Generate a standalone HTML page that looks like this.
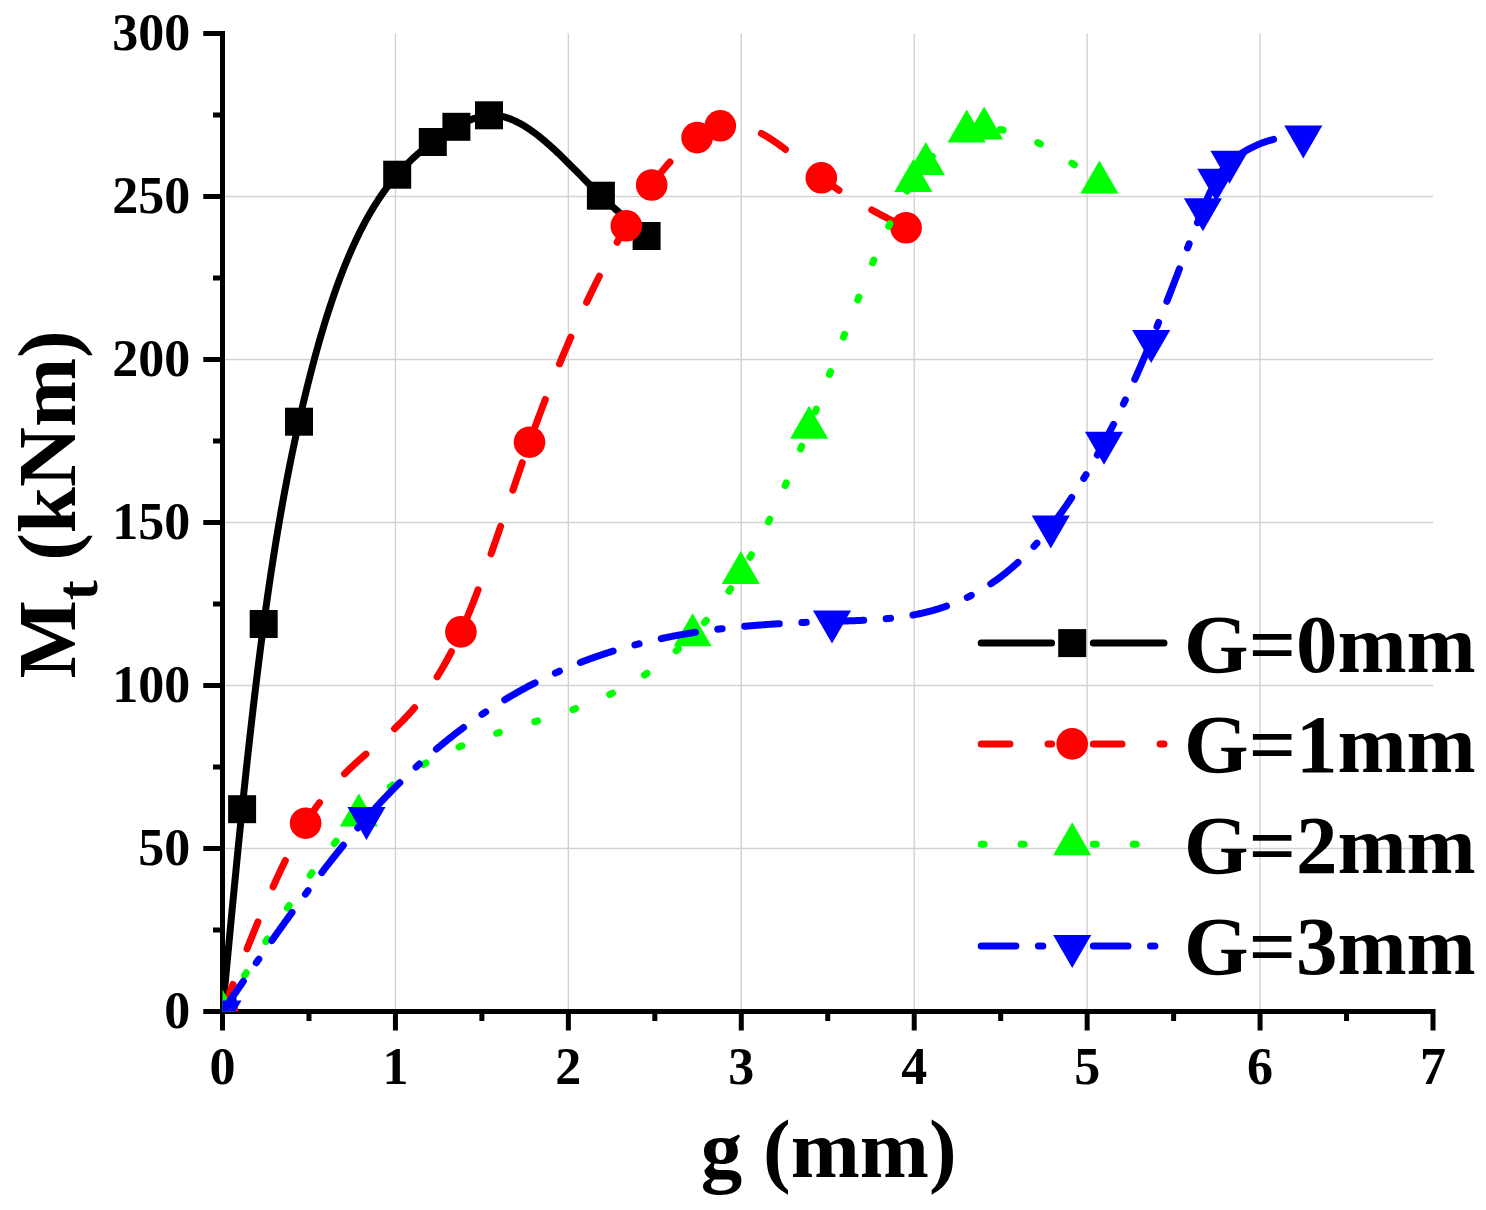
<!DOCTYPE html>
<html><head><meta charset="utf-8"><style>
html,body{margin:0;padding:0;background:#fff;}
body{width:1486px;height:1210px;overflow:hidden;}
svg{display:block;}
text{font-family:"Liberation Serif",serif;font-weight:bold;fill:#000;}
</style></head><body>
<svg width="1486" height="1210" viewBox="0 0 1486 1210">
<rect width="1486" height="1210" fill="#fff"/>
<defs><clipPath id="pa"><rect x="222.5" y="0" width="1300" height="1011.5"/></clipPath></defs>

<path d="M395.43 33.50V1011.5M568.36 33.50V1011.5M741.29 33.50V1011.5M914.22 33.50V1011.5M1087.15 33.50V1011.5M1260.08 33.50V1011.5M222.5 848.50H1433.01M222.5 685.50H1433.01M222.5 522.50H1433.01M222.5 359.50H1433.01M222.5 196.50H1433.01" stroke="#d2d2d2" stroke-width="1.4" fill="none"/>
<path d="M222.5 31.00V1014.0M220.0 1011.5H1435.51M203.30 1011.50H222.5M203.30 848.50H222.5M203.30 685.50H222.5M203.30 522.50H222.5M203.30 359.50H222.5M203.30 196.50H222.5M203.30 33.50H222.5M213.00 930.00H222.5M213.00 767.00H222.5M213.00 604.00H222.5M213.00 441.00H222.5M213.00 278.00H222.5M213.00 115.00H222.5M222.50 1011.5V1030.60M395.43 1011.5V1030.60M568.36 1011.5V1030.60M741.29 1011.5V1030.60M914.22 1011.5V1030.60M1087.15 1011.5V1030.60M1260.08 1011.5V1030.60M1433.01 1011.5V1030.60M308.97 1011.5V1021.00M481.89 1011.5V1021.00M654.83 1011.5V1021.00M827.75 1011.5V1021.00M1000.69 1011.5V1021.00M1173.62 1011.5V1021.00M1346.55 1011.5V1021.00" stroke="#000" stroke-width="5" fill="none" stroke-linecap="butt"/>
<text x="190.3" y="1027.50" font-size="52" text-anchor="end">0</text>
<text x="190.3" y="864.50" font-size="52" text-anchor="end">50</text>
<text x="190.3" y="701.50" font-size="52" text-anchor="end">100</text>
<text x="190.3" y="538.50" font-size="52" text-anchor="end">150</text>
<text x="190.3" y="375.50" font-size="52" text-anchor="end">200</text>
<text x="190.3" y="212.50" font-size="52" text-anchor="end">250</text>
<text x="190.3" y="49.50" font-size="52" text-anchor="end">300</text>
<text x="222.50" y="1084.3" font-size="52" text-anchor="middle">0</text>
<text x="395.43" y="1084.3" font-size="52" text-anchor="middle">1</text>
<text x="568.36" y="1084.3" font-size="52" text-anchor="middle">2</text>
<text x="741.29" y="1084.3" font-size="52" text-anchor="middle">3</text>
<text x="914.22" y="1084.3" font-size="52" text-anchor="middle">4</text>
<text x="1087.15" y="1084.3" font-size="52" text-anchor="middle">5</text>
<text x="1260.08" y="1084.3" font-size="52" text-anchor="middle">6</text>
<text x="1433.01" y="1084.3" font-size="52" text-anchor="middle">7</text>
<text x="828.7" y="1177.3" font-size="83" text-anchor="middle">g (mm)</text>
<text transform="translate(74.7,678.4) rotate(-90)" font-size="83">M</text>
<text transform="translate(97.0,600.3) rotate(-90)" font-size="60">t</text>
<text transform="translate(74.7,560.85) rotate(-90)" font-size="83">(kNm)</text>
<g clip-path="url(#pa)">
<path d="M 222.50,1011.50 223.53,1000.53 224.56,989.56 225.59,978.60 226.63,967.66 227.66,956.74 228.69,945.85 229.72,934.99 230.75,924.17 231.78,913.39 232.82,902.67 233.85,891.99 234.88,881.38 235.91,870.83 236.94,860.35 237.97,849.94 239.01,839.62 240.04,829.39 241.07,819.24 242.10,809.20 243.13,799.29 244.16,789.48 245.19,779.77 246.21,770.17 247.24,760.68 248.27,751.29 249.30,742.01 250.33,732.84 251.36,723.78 252.39,714.83 253.41,706.00 254.44,697.27 255.47,688.66 256.50,680.17 257.53,671.79 258.56,663.53 259.59,655.38 260.61,647.36 261.64,639.45 262.67,631.66 263.70,624.00 264.71,616.60 265.72,609.32 266.73,602.15 267.73,595.10 268.74,588.15 269.75,581.32 270.76,574.59 271.77,567.96 272.78,561.44 273.79,555.01 274.79,548.69 275.80,542.46 276.81,536.33 277.82,530.29 278.83,524.34 279.84,518.49 280.85,512.72 281.85,507.03 282.86,501.43 283.87,495.91 284.88,490.48 285.89,485.12 286.90,479.83 287.91,474.62 288.91,469.49 289.92,464.42 290.93,459.42 291.94,454.49 292.95,449.63 293.96,444.83 294.97,440.09 295.97,435.40 296.98,430.78 297.99,426.21 299.00,421.70 300.00,417.27 301.00,412.89 302.01,408.55 303.01,404.27 304.01,400.04 305.01,395.86 306.01,391.73 307.02,387.64 308.02,383.61 309.02,379.62 310.02,375.68 311.02,371.79 312.03,367.94 313.03,364.14 314.03,360.39 315.03,356.68 316.03,353.02 317.04,349.40 318.04,345.83 319.04,342.31 320.04,338.82 321.04,335.38 322.05,331.99 323.05,328.64 324.05,325.33 325.05,322.06 326.06,318.83 327.06,315.65 328.06,312.51 329.06,309.40 330.06,306.34 331.07,303.32 332.07,300.34 333.07,297.40 334.07,294.49 335.07,291.63 336.08,288.80 337.08,286.02 338.08,283.27 339.08,280.55 340.08,277.88 341.09,275.24 342.09,272.63 343.09,270.07 344.09,267.53 345.09,265.04 346.10,262.57 347.10,260.15 348.10,257.75 349.10,255.39 350.10,253.07 351.11,250.77 352.11,248.51 353.11,246.28 354.11,244.09 355.11,241.92 356.12,239.79 357.12,237.68 358.12,235.61 359.12,233.57 360.12,231.55 361.13,229.57 362.13,227.62 363.13,225.69 364.13,223.79 365.13,221.92 366.14,220.08 367.14,218.26 368.14,216.48 369.14,214.72 370.14,212.98 371.15,211.27 372.15,209.59 373.15,207.93 374.15,206.29 375.16,204.68 376.16,203.10 377.16,201.53 378.16,200.00 379.16,198.48 380.17,196.99 381.17,195.51 382.17,194.06 383.17,192.64 384.17,191.23 385.18,189.84 386.18,188.48 387.18,187.13 388.18,185.81 389.18,184.50 390.19,183.21 391.19,181.94 392.19,180.69 393.19,179.46 394.19,178.24 395.20,177.05 396.20,175.86 397.20,174.70 398.22,173.53 399.23,172.38 400.25,171.25 401.27,170.13 402.29,169.03 403.30,167.94 404.32,166.87 405.34,165.82 406.35,164.77 407.37,163.75 408.39,162.73 409.41,161.73 410.42,160.75 411.44,159.78 412.46,158.82 413.47,157.87 414.49,156.93 415.51,156.01 416.53,155.10 417.54,154.21 418.56,153.32 419.58,152.45 420.59,151.58 421.61,150.73 422.63,149.89 423.65,149.06 424.66,148.23 425.68,147.42 426.70,146.62 427.71,145.83 428.73,145.05 429.75,144.27 430.77,143.51 431.78,142.75 432.80,142.00 433.83,141.25 434.85,140.51 435.88,139.78 436.90,139.06 437.93,138.34 438.96,137.64 439.98,136.94 441.01,136.24 442.03,135.56 443.06,134.88 444.09,134.22 445.11,133.56 446.14,132.90 447.17,132.26 448.19,131.62 449.22,130.99 450.24,130.37 451.27,129.76 452.30,129.15 453.32,128.55 454.35,127.96 455.37,127.38 456.40,126.80 457.42,126.24 458.44,125.68 459.46,125.13 460.47,124.59 461.49,124.06 462.51,123.54 463.53,123.03 464.55,122.54 465.57,122.05 466.59,121.58 467.61,121.12 468.62,120.67 469.64,120.23 470.66,119.81 471.68,119.41 472.70,119.02 473.72,118.64 474.74,118.29 475.76,117.95 476.77,117.62 477.79,117.32 478.81,117.03 479.83,116.76 480.85,116.52 481.87,116.29 482.89,116.08 483.91,115.89 484.93,115.73 485.94,115.59 486.96,115.47 487.98,115.37 489.00,115.30 490.01,115.25 491.02,115.23 492.02,115.23 493.03,115.25 494.04,115.29 495.05,115.36 496.06,115.45 497.06,115.56 498.07,115.70 499.08,115.85 500.09,116.03 501.10,116.23 502.11,116.44 503.11,116.68 504.12,116.94 505.13,117.22 506.14,117.52 507.15,117.83 508.15,118.17 509.16,118.53 510.17,118.90 511.18,119.29 512.19,119.70 513.19,120.13 514.20,120.58 515.21,121.04 516.22,121.52 517.23,122.02 518.24,122.53 519.24,123.06 520.25,123.60 521.26,124.16 522.27,124.74 523.28,125.33 524.28,125.94 525.29,126.56 526.30,127.20 527.31,127.85 528.32,128.51 529.32,129.19 530.33,129.88 531.34,130.58 532.35,131.30 533.36,132.03 534.36,132.77 535.37,133.52 536.38,134.29 537.39,135.06 538.40,135.85 539.41,136.65 540.41,137.46 541.42,138.28 542.43,139.11 543.44,139.95 544.45,140.80 545.45,141.66 546.46,142.53 547.47,143.40 548.48,144.29 549.49,145.18 550.49,146.08 551.50,146.99 552.51,147.91 553.52,148.84 554.53,149.77 555.54,150.71 556.54,151.65 557.55,152.60 558.56,153.56 559.57,154.52 560.58,155.49 561.58,156.47 562.59,157.45 563.60,158.43 564.61,159.42 565.62,160.41 566.62,161.40 567.63,162.40 568.64,163.41 569.65,164.41 570.66,165.42 571.66,166.43 572.67,167.45 573.68,168.46 574.69,169.48 575.70,170.50 576.71,171.52 577.71,172.54 578.72,173.56 579.73,174.58 580.74,175.61 581.75,176.63 582.75,177.65 583.76,178.67 584.77,179.69 585.78,180.71 586.79,181.73 587.79,182.75 588.80,183.76 589.81,184.78 590.82,185.79 591.83,186.80 592.84,187.80 593.84,188.80 594.85,189.80 595.86,190.79 596.87,191.78 597.88,192.77 598.88,193.75 599.89,194.73 600.90,195.70 601.92,196.67 602.93,197.64 603.95,198.61 604.96,199.56 605.98,200.52 606.99,201.47 608.01,202.41 609.02,203.35 610.04,204.28 611.06,205.21 612.07,206.14 613.09,207.06 614.10,207.98 615.12,208.90 616.13,209.81 617.15,210.71 618.16,211.62 619.18,212.52 620.20,213.41 621.21,214.31 622.23,215.20 623.24,216.09 624.26,216.97 625.27,217.86 626.29,218.74 627.30,219.61 628.32,220.49 629.34,221.36 630.35,222.24 631.37,223.10 632.38,223.97 633.40,224.84 634.41,225.70 635.43,226.57 636.44,227.43 637.46,228.29 638.48,229.15 639.49,230.01 640.51,230.86 641.52,231.72 642.54,232.58 643.55,233.43 644.57,234.29 645.58,235.14 646.60,236.00" stroke="#000000" stroke-width="7.0" fill="none" stroke-linecap="round" stroke-linejoin="round"/>
<rect x="208.50" y="997.50" width="28.0" height="28.0" fill="#000000"/>
<rect x="228.10" y="795.20" width="28.0" height="28.0" fill="#000000"/>
<rect x="249.70" y="610.00" width="28.0" height="28.0" fill="#000000"/>
<rect x="285.00" y="407.70" width="28.0" height="28.0" fill="#000000"/>
<rect x="383.20" y="160.70" width="28.0" height="28.0" fill="#000000"/>
<rect x="418.80" y="128.00" width="28.0" height="28.0" fill="#000000"/>
<rect x="442.40" y="112.80" width="28.0" height="28.0" fill="#000000"/>
<rect x="475.00" y="101.30" width="28.0" height="28.0" fill="#000000"/>
<rect x="586.90" y="181.70" width="28.0" height="28.0" fill="#000000"/>
<rect x="632.60" y="222.00" width="28.0" height="28.0" fill="#000000"/>
<path d="M 222.50,1011.50 223.50,1008.91 224.50,1006.33 225.50,1003.74 226.50,1001.15 227.51,998.57 228.51,995.99 229.51,993.40 230.51,990.83 231.51,988.25 232.51,985.67 233.51,983.10 234.51,980.53 235.52,977.97 236.52,975.40 237.52,972.85 238.52,970.29 239.52,967.74 240.52,965.20 241.52,962.66 242.52,960.12 243.53,957.59 244.53,955.07 245.53,952.55 246.53,950.04 247.53,947.54 248.53,945.04 249.53,942.55 250.53,940.07 251.53,937.60 252.54,935.13 253.54,932.67 254.54,930.22 255.54,927.78 256.54,925.35 257.54,922.93 258.54,920.52 259.54,918.11 260.55,915.72 261.55,913.34 262.55,910.97 263.55,908.61 264.55,906.26 265.55,903.92 266.55,901.60 267.55,899.29 268.56,896.99 269.56,894.70 270.56,892.42 271.56,890.16 272.56,887.92 273.56,885.68 274.56,883.46 275.56,881.26 276.57,879.07 277.57,876.89 278.57,874.73 279.57,872.59 280.57,870.46 281.57,868.35 282.57,866.25 283.57,864.17 284.57,862.11 285.58,860.07 286.58,858.04 287.58,856.03 288.58,854.04 289.58,852.06 290.58,850.11 291.58,848.17 292.58,846.25 293.59,844.36 294.59,842.48 295.59,840.62 296.59,838.78 297.59,836.96 298.59,835.17 299.59,833.39 300.59,831.64 301.60,829.91 302.60,828.20 303.60,826.51 304.60,824.84 305.60,823.20 306.60,821.58 307.60,819.98 308.61,818.40 309.61,816.85 310.61,815.32 311.61,813.81 312.61,812.32 313.62,810.85 314.62,809.40 315.62,807.97 316.62,806.56 317.62,805.17 318.63,803.80 319.63,802.45 320.63,801.11 321.63,799.79 322.63,798.49 323.63,797.21 324.64,795.95 325.64,794.70 326.64,793.47 327.64,792.25 328.64,791.05 329.65,789.86 330.65,788.69 331.65,787.53 332.65,786.39 333.65,785.26 334.66,784.14 335.66,783.04 336.66,781.95 337.66,780.87 338.66,779.81 339.67,778.75 340.67,777.71 341.67,776.68 342.67,775.65 343.67,774.64 344.68,773.64 345.68,772.65 346.68,771.67 347.68,770.69 348.68,769.73 349.69,768.77 350.69,767.82 351.69,766.88 352.69,765.94 353.69,765.01 354.69,764.09 355.70,763.17 356.70,762.26 357.70,761.36 358.70,760.46 359.70,759.57 360.71,758.67 361.71,757.79 362.71,756.90 363.71,756.02 364.71,755.15 365.72,754.27 366.72,753.40 367.72,752.53 368.72,751.66 369.72,750.80 370.73,749.93 371.73,749.06 372.73,748.20 373.73,747.33 374.73,746.46 375.74,745.60 376.74,744.73 377.74,743.86 378.74,742.99 379.74,742.11 380.75,741.23 381.75,740.35 382.75,739.47 383.75,738.58 384.75,737.69 385.75,736.80 386.76,735.90 387.76,734.99 388.76,734.08 389.76,733.17 390.76,732.25 391.77,731.32 392.77,730.38 393.77,729.44 394.77,728.49 395.77,727.53 396.78,726.57 397.78,725.59 398.78,724.61 399.78,723.61 400.78,722.61 401.79,721.60 402.79,720.58 403.79,719.55 404.79,718.50 405.79,717.45 406.80,716.38 407.80,715.30 408.80,714.21 409.80,713.11 410.80,711.99 411.81,710.86 412.81,709.72 413.81,708.56 414.81,707.39 415.81,706.20 416.81,705.00 417.82,703.78 418.82,702.55 419.82,701.30 420.82,700.03 421.82,698.75 422.83,697.45 423.83,696.13 424.83,694.80 425.83,693.45 426.83,692.07 427.84,690.68 428.84,689.27 429.84,687.84 430.84,686.39 431.84,684.92 432.85,683.43 433.85,681.92 434.85,680.39 435.85,678.83 436.85,677.26 437.86,675.66 438.86,674.03 439.86,672.39 440.86,670.72 441.86,669.03 442.87,667.31 443.87,665.57 444.87,663.81 445.87,662.02 446.87,660.20 447.87,658.36 448.88,656.49 449.88,654.59 450.88,652.67 451.88,650.72 452.88,648.75 453.89,646.74 454.89,644.71 455.89,642.65 456.89,640.56 457.89,638.44 458.90,636.29 459.90,634.11 460.90,631.90 461.91,629.64 462.92,627.36 463.93,625.04 464.94,622.70 465.94,620.32 466.95,617.92 467.96,615.49 468.97,613.04 469.98,610.56 470.99,608.05 472.00,605.52 473.01,602.96 474.01,600.39 475.02,597.79 476.03,595.16 477.04,592.52 478.05,589.86 479.06,587.17 480.07,584.47 481.08,581.75 482.09,579.01 483.09,576.25 484.10,573.48 485.11,570.69 486.12,567.88 487.13,565.06 488.14,562.23 489.15,559.38 490.16,556.52 491.16,553.65 492.17,550.77 493.18,547.88 494.19,544.97 495.20,542.06 496.21,539.14 497.22,536.21 498.23,533.27 499.24,530.33 500.24,527.38 501.25,524.43 502.26,521.47 503.27,518.50 504.28,515.54 505.29,512.57 506.30,509.60 507.31,506.62 508.31,503.65 509.32,500.68 510.33,497.70 511.34,494.73 512.35,491.76 513.36,488.79 514.37,485.83 515.38,482.87 516.39,479.91 517.39,476.96 518.40,474.02 519.41,471.08 520.42,468.15 521.43,465.22 522.44,462.31 523.45,459.40 524.46,456.51 525.46,453.62 526.47,450.75 527.48,447.89 528.49,445.04 529.50,442.20 530.51,439.38 531.52,436.57 532.52,433.78 533.53,431.00 534.54,428.23 535.55,425.48 536.56,422.74 537.57,420.01 538.58,417.30 539.58,414.60 540.59,411.91 541.60,409.23 542.61,406.57 543.62,403.93 544.62,401.29 545.63,398.67 546.64,396.06 547.65,393.47 548.66,390.88 549.67,388.31 550.67,385.75 551.68,383.21 552.69,380.68 553.70,378.16 554.71,375.65 555.72,373.15 556.73,370.67 557.73,368.20 558.74,365.74 559.75,363.29 560.76,360.86 561.77,358.44 562.77,356.03 563.78,353.63 564.79,351.24 565.80,348.87 566.81,346.50 567.82,344.15 568.82,341.81 569.83,339.48 570.84,337.17 571.85,334.86 572.86,332.57 573.87,330.28 574.88,328.01 575.88,325.75 576.89,323.50 577.90,321.26 578.91,319.04 579.92,316.82 580.92,314.62 581.93,312.42 582.94,310.24 583.95,308.07 584.96,305.91 585.97,303.76 586.98,301.61 587.98,299.48 588.99,297.37 590.00,295.26 591.01,293.16 592.02,291.07 593.02,288.99 594.03,286.92 595.04,284.87 596.05,282.82 597.06,280.78 598.07,278.75 599.07,276.74 600.08,274.73 601.09,272.73 602.10,270.74 603.11,268.76 604.12,266.79 605.12,264.83 606.13,262.88 607.14,260.94 608.15,259.01 609.16,257.09 610.17,255.18 611.17,253.28 612.18,251.38 613.19,249.50 614.20,247.62 615.21,245.76 616.22,243.90 617.22,242.05 618.23,240.21 619.24,238.38 620.25,236.56 621.26,234.74 622.27,232.94 623.27,231.14 624.28,229.35 625.29,227.57 626.30,225.80 627.32,224.02 628.33,222.26 629.35,220.50 630.36,218.75 631.38,217.01 632.40,215.28 633.41,213.57 634.43,211.86 635.44,210.17 636.46,208.49 637.48,206.82 638.49,205.16 639.51,203.52 640.52,201.89 641.54,200.27 642.56,198.67 643.57,197.09 644.59,195.52 645.60,193.97 646.62,192.43 647.64,190.91 648.65,189.40 649.67,187.92 650.68,186.45 651.70,185.00 652.71,183.58 653.72,182.18 654.73,180.79 655.74,179.43 656.74,178.08 657.75,176.75 658.76,175.43 659.77,174.14 660.78,172.86 661.79,171.60 662.80,170.36 663.81,169.13 664.82,167.93 665.82,166.74 666.83,165.56 667.84,164.40 668.85,163.26 669.86,162.14 670.87,161.03 671.88,159.94 672.89,158.86 673.90,157.80 674.90,156.76 675.91,155.73 676.92,154.72 677.93,153.72 678.94,152.74 679.95,151.78 680.96,150.83 681.97,149.89 682.98,148.97 683.98,148.07 684.99,147.18 686.00,146.30 687.01,145.44 688.02,144.59 689.03,143.76 690.04,142.94 691.05,142.14 692.06,141.35 693.06,140.57 694.07,139.81 695.08,139.06 696.09,138.32 697.10,137.60 698.11,136.89 699.12,136.20 700.13,135.52 701.13,134.85 702.14,134.20 703.15,133.57 704.16,132.95 705.17,132.35 706.18,131.77 707.19,131.20 708.20,130.66 709.20,130.13 710.21,129.63 711.22,129.14 712.23,128.68 713.24,128.24 714.25,127.82 715.26,127.42 716.27,127.05 717.27,126.70 718.28,126.37 719.29,126.07 720.30,125.80 721.30,125.55 722.30,125.33 723.30,125.14 724.30,124.97 725.30,124.83 726.30,124.71 727.30,124.61 728.30,124.54 729.30,124.49 730.30,124.46 731.30,124.46 732.30,124.47 733.30,124.52 734.30,124.58 735.30,124.66 736.30,124.77 737.30,124.89 738.30,125.04 739.30,125.21 740.30,125.39 741.30,125.60 742.30,125.82 743.30,126.07 744.30,126.33 745.30,126.61 746.30,126.91 747.30,127.23 748.30,127.57 749.30,127.92 750.30,128.29 751.30,128.67 752.30,129.07 753.30,129.49 754.30,129.92 755.30,130.37 756.30,130.83 757.30,131.31 758.30,131.80 759.30,132.31 760.30,132.82 761.30,133.36 762.30,133.90 763.30,134.46 764.30,135.03 765.30,135.61 766.30,136.21 767.30,136.81 768.30,137.43 769.30,138.06 770.30,138.69 771.30,139.34 772.30,140.00 773.30,140.67 774.30,141.35 775.30,142.03 776.30,142.73 777.30,143.43 778.30,144.14 779.30,144.86 780.30,145.58 781.30,146.32 782.30,147.06 783.30,147.80 784.30,148.55 785.30,149.31 786.30,150.08 787.30,150.84 788.30,151.62 789.30,152.39 790.30,153.18 791.30,153.96 792.30,154.75 793.30,155.55 794.30,156.34 795.30,157.14 796.30,157.94 797.30,158.74 798.30,159.55 799.30,160.35 800.30,161.16 801.30,161.97 802.30,162.78 803.30,163.58 804.30,164.39 805.30,165.20 806.30,166.01 807.30,166.81 808.30,167.62 809.30,168.42 810.30,169.22 811.30,170.02 812.30,170.81 813.30,171.61 814.30,172.40 815.30,173.18 816.30,173.96 817.30,174.74 818.30,175.51 819.30,176.28 820.30,177.04 821.30,177.80 822.31,178.56 823.32,179.31 824.33,180.06 825.34,180.80 826.35,181.53 827.36,182.26 828.37,182.99 829.38,183.71 830.39,184.42 831.40,185.13 832.40,185.83 833.41,186.53 834.42,187.22 835.43,187.91 836.44,188.59 837.45,189.27 838.46,189.94 839.47,190.61 840.48,191.28 841.49,191.94 842.50,192.59 843.51,193.24 844.52,193.89 845.53,194.53 846.54,195.17 847.55,195.80 848.56,196.43 849.57,197.05 850.58,197.67 851.59,198.29 852.60,198.90 853.60,199.51 854.61,200.12 855.62,200.72 856.63,201.32 857.64,201.92 858.65,202.51 859.66,203.10 860.67,203.68 861.68,204.26 862.69,204.84 863.70,205.42 864.71,205.99 865.72,206.56 866.73,207.13 867.74,207.69 868.75,208.25 869.76,208.81 870.77,209.37 871.78,209.92 872.79,210.48 873.80,211.03 874.80,211.57 875.81,212.12 876.82,212.66 877.83,213.20 878.84,213.74 879.85,214.28 880.86,214.81 881.87,215.35 882.88,215.88 883.89,216.41 884.90,216.94 885.91,217.46 886.92,217.99 887.93,218.51 888.94,219.04 889.95,219.56 890.96,220.08 891.97,220.60 892.98,221.12 893.99,221.63 895.00,222.15 896.00,222.67 897.01,223.18 898.02,223.70 899.03,224.21 900.04,224.72 901.05,225.24 902.06,225.75 903.07,226.26 904.08,226.78 905.09,227.29 906.10,227.80" stroke="#ff0000" stroke-width="7.0" fill="none" stroke-linecap="round" stroke-linejoin="round" stroke-dasharray="29 38.3" stroke-dashoffset="0"/>
<circle cx="222.50" cy="1011.50" r="15.8" fill="#ff0000"/>
<circle cx="305.60" cy="823.20" r="15.8" fill="#ff0000"/>
<circle cx="460.90" cy="631.90" r="15.8" fill="#ff0000"/>
<circle cx="529.50" cy="442.20" r="15.8" fill="#ff0000"/>
<circle cx="626.30" cy="225.80" r="15.8" fill="#ff0000"/>
<circle cx="651.70" cy="185.00" r="15.8" fill="#ff0000"/>
<circle cx="697.10" cy="137.60" r="15.8" fill="#ff0000"/>
<circle cx="720.30" cy="125.80" r="15.8" fill="#ff0000"/>
<circle cx="821.30" cy="177.80" r="15.8" fill="#ff0000"/>
<circle cx="906.10" cy="227.80" r="15.8" fill="#ff0000"/>
<path d="M 222.50,1011.50 223.50,1009.86 224.50,1008.22 225.51,1006.58 226.51,1004.93 227.51,1003.29 228.51,1001.65 229.52,1000.01 230.52,998.37 231.52,996.73 232.52,995.09 233.52,993.46 234.53,991.82 235.53,990.18 236.53,988.55 237.53,986.91 238.54,985.28 239.54,983.64 240.54,982.01 241.54,980.38 242.54,978.75 243.55,977.12 244.55,975.50 245.55,973.87 246.55,972.25 247.56,970.63 248.56,969.01 249.56,967.39 250.56,965.77 251.56,964.15 252.57,962.54 253.57,960.93 254.57,959.32 255.57,957.71 256.57,956.11 257.58,954.50 258.58,952.90 259.58,951.31 260.58,949.71 261.59,948.12 262.59,946.52 263.59,944.94 264.59,943.35 265.59,941.77 266.60,940.19 267.60,938.61 268.60,937.04 269.60,935.46 270.61,933.90 271.61,932.33 272.61,930.77 273.61,929.21 274.61,927.65 275.62,926.10 276.62,924.55 277.62,923.01 278.62,921.47 279.63,919.93 280.63,918.40 281.63,916.86 282.63,915.34 283.63,913.82 284.64,912.30 285.64,910.78 286.64,909.27 287.64,907.77 288.65,906.26 289.65,904.77 290.65,903.27 291.65,901.78 292.65,900.30 293.66,898.82 294.66,897.34 295.66,895.87 296.66,894.41 297.67,892.94 298.67,891.49 299.67,890.04 300.67,888.59 301.67,887.15 302.68,885.71 303.68,884.28 304.68,882.86 305.68,881.44 306.69,880.02 307.69,878.61 308.69,877.21 309.69,875.81 310.69,874.42 311.70,873.03 312.70,871.65 313.70,870.27 314.70,868.90 315.71,867.54 316.71,866.18 317.71,864.83 318.71,863.49 319.71,862.15 320.72,860.82 321.72,859.49 322.72,858.17 323.72,856.86 324.73,855.55 325.73,854.25 326.73,852.96 327.73,851.67 328.73,850.39 329.74,849.12 330.74,847.85 331.74,846.59 332.74,845.34 333.74,844.10 334.75,842.86 335.75,841.63 336.75,840.41 337.75,839.19 338.76,837.98 339.76,836.78 340.76,835.59 341.76,834.41 342.76,833.23 343.77,832.06 344.77,830.90 345.77,829.74 346.77,828.60 347.78,827.46 348.78,826.33 349.78,825.21 350.78,824.10 351.78,822.99 352.79,821.90 353.79,820.81 354.79,819.73 355.79,818.66 356.80,817.60 357.80,816.54 358.80,815.50 359.80,814.46 360.80,813.44 361.81,812.42 362.81,811.41 363.81,810.41 364.81,809.42 365.82,808.43 366.82,807.46 367.82,806.49 368.82,805.53 369.83,804.58 370.83,803.64 371.83,802.71 372.83,801.78 373.84,800.86 374.84,799.95 375.84,799.05 376.84,798.16 377.85,797.27 378.85,796.39 379.85,795.52 380.85,794.66 381.86,793.81 382.86,792.96 383.86,792.12 384.86,791.29 385.86,790.47 386.87,789.65 387.87,788.84 388.87,788.04 389.87,787.24 390.88,786.46 391.88,785.67 392.88,784.90 393.88,784.14 394.89,783.38 395.89,782.62 396.89,781.88 397.89,781.14 398.90,780.41 399.90,779.68 400.90,778.96 401.90,778.25 402.91,777.55 403.91,776.85 404.91,776.16 405.91,775.47 406.92,774.79 407.92,774.12 408.92,773.45 409.92,772.79 410.92,772.14 411.93,771.49 412.93,770.85 413.93,770.21 414.93,769.58 415.94,768.96 416.94,768.34 417.94,767.72 418.94,767.12 419.95,766.52 420.95,765.92 421.95,765.33 422.95,764.75 423.96,764.17 424.96,763.59 425.96,763.03 426.96,762.46 427.97,761.90 428.97,761.35 429.97,760.80 430.97,760.26 431.98,759.73 432.98,759.19 433.98,758.67 434.98,758.14 435.98,757.63 436.99,757.11 437.99,756.61 438.99,756.10 439.99,755.60 441.00,755.11 442.00,754.62 443.00,754.13 444.00,753.65 445.01,753.18 446.01,752.71 447.01,752.24 448.01,751.77 449.02,751.32 450.02,750.86 451.02,750.41 452.02,749.96 453.03,749.52 454.03,749.08 455.03,748.64 456.03,748.21 457.04,747.78 458.04,747.36 459.04,746.94 460.04,746.52 461.05,746.11 462.05,745.70 463.05,745.29 464.05,744.89 465.05,744.49 466.06,744.09 467.06,743.70 468.06,743.31 469.06,742.92 470.07,742.54 471.07,742.15 472.07,741.78 473.07,741.40 474.08,741.03 475.08,740.66 476.08,740.29 477.08,739.93 478.09,739.57 479.09,739.21 480.09,738.85 481.09,738.50 482.10,738.14 483.10,737.79 484.10,737.45 485.10,737.10 486.11,736.76 487.11,736.42 488.11,736.08 489.11,735.74 490.11,735.41 491.12,735.08 492.12,734.75 493.12,734.42 494.12,734.09 495.13,733.77 496.13,733.44 497.13,733.12 498.13,732.80 499.14,732.48 500.14,732.16 501.14,731.85 502.14,731.53 503.15,731.22 504.15,730.91 505.15,730.60 506.15,730.29 507.16,729.98 508.16,729.67 509.16,729.37 510.16,729.06 511.17,728.76 512.17,728.45 513.17,728.15 514.17,727.85 515.17,727.55 516.18,727.24 517.18,726.94 518.18,726.64 519.18,726.34 520.19,726.05 521.19,725.75 522.19,725.45 523.19,725.15 524.20,724.85 525.20,724.55 526.20,724.26 527.20,723.96 528.21,723.66 529.21,723.36 530.21,723.07 531.21,722.77 532.22,722.47 533.22,722.17 534.22,721.87 535.22,721.57 536.23,721.27 537.23,720.97 538.23,720.67 539.23,720.37 540.23,720.07 541.24,719.77 542.24,719.46 543.24,719.16 544.24,718.85 545.25,718.55 546.25,718.24 547.25,717.93 548.25,717.62 549.26,717.31 550.26,717.00 551.26,716.69 552.26,716.38 553.27,716.06 554.27,715.75 555.27,715.43 556.27,715.11 557.28,714.79 558.28,714.46 559.28,714.14 560.28,713.81 561.29,713.49 562.29,713.16 563.29,712.83 564.29,712.49 565.29,712.16 566.30,711.82 567.30,711.48 568.30,711.14 569.30,710.80 570.31,710.45 571.31,710.10 572.31,709.75 573.31,709.40 574.32,709.04 575.32,708.69 576.32,708.33 577.32,707.96 578.33,707.60 579.33,707.23 580.33,706.86 581.33,706.48 582.34,706.11 583.34,705.73 584.34,705.35 585.34,704.96 586.35,704.57 587.35,704.18 588.35,703.79 589.35,703.39 590.35,702.99 591.36,702.58 592.36,702.17 593.36,701.76 594.36,701.35 595.37,700.93 596.37,700.51 597.37,700.08 598.37,699.65 599.38,699.22 600.38,698.78 601.38,698.34 602.38,697.89 603.39,697.45 604.39,696.99 605.39,696.54 606.39,696.07 607.40,695.61 608.40,695.14 609.40,694.67 610.40,694.19 611.41,693.71 612.41,693.22 613.41,692.73 614.41,692.23 615.42,691.73 616.42,691.23 617.42,690.72 618.42,690.20 619.42,689.68 620.43,689.16 621.43,688.63 622.43,688.09 623.43,687.55 624.44,687.01 625.44,686.46 626.44,685.91 627.44,685.35 628.45,684.78 629.45,684.21 630.45,683.63 631.45,683.05 632.46,682.47 633.46,681.87 634.46,681.28 635.46,680.67 636.47,680.06 637.47,679.45 638.47,678.83 639.47,678.20 640.48,677.57 641.48,676.93 642.48,676.28 643.48,675.63 644.48,674.98 645.49,674.31 646.49,673.64 647.49,672.97 648.49,672.29 649.50,671.60 650.50,670.90 651.50,670.20 652.50,669.49 653.51,668.78 654.51,668.06 655.51,667.33 656.51,666.60 657.52,665.85 658.52,665.11 659.52,664.35 660.52,663.59 661.53,662.82 662.53,662.04 663.53,661.26 664.53,660.47 665.54,659.67 666.54,658.87 667.54,658.05 668.54,657.23 669.54,656.41 670.55,655.57 671.55,654.73 672.55,653.88 673.55,653.02 674.56,652.16 675.56,651.28 676.56,650.40 677.56,649.51 678.57,648.62 679.57,647.71 680.57,646.80 681.57,645.88 682.58,644.95 683.58,644.01 684.58,643.07 685.58,642.11 686.59,641.15 687.59,640.18 688.59,639.20 689.59,638.21 690.60,637.22 691.60,636.21 692.60,635.20 693.60,634.18 694.61,633.14 695.61,632.10 696.62,631.05 697.62,629.99 698.62,628.92 699.63,627.84 700.63,626.75 701.64,625.65 702.64,624.54 703.65,623.42 704.65,622.29 705.65,621.15 706.66,619.99 707.66,618.83 708.67,617.65 709.67,616.47 710.67,615.27 711.68,614.06 712.68,612.83 713.69,611.60 714.69,610.35 715.70,609.09 716.70,607.82 717.70,606.53 718.71,605.23 719.71,603.92 720.72,602.60 721.72,601.26 722.73,599.90 723.73,598.54 724.73,597.16 725.74,595.76 726.74,594.35 727.75,592.93 728.75,591.49 729.75,590.03 730.76,588.56 731.76,587.08 732.77,585.58 733.77,584.06 734.77,582.53 735.78,580.98 736.78,579.42 737.79,577.84 738.79,576.24 739.80,574.63 740.80,573.00 741.80,571.35 742.81,569.69 743.81,568.01 744.82,566.31 745.82,564.59 746.83,562.86 747.83,561.11 748.84,559.35 749.84,557.57 750.84,555.77 751.85,553.96 752.85,552.13 753.86,550.29 754.86,548.43 755.87,546.55 756.87,544.66 757.88,542.75 758.88,540.83 759.88,538.90 760.89,536.94 761.89,534.98 762.90,533.00 763.90,531.00 764.91,528.99 765.91,526.96 766.91,524.92 767.92,522.87 768.92,520.80 769.93,518.72 770.93,516.62 771.94,514.51 772.94,512.39 773.95,510.25 774.95,508.10 775.95,505.94 776.96,503.76 777.96,501.57 778.97,499.37 779.97,497.15 780.98,494.92 781.98,492.68 782.99,490.42 783.99,488.15 784.99,485.87 786.00,483.58 787.00,481.28 788.01,478.96 789.01,476.63 790.02,474.29 791.02,471.94 792.02,469.57 793.03,467.20 794.03,464.81 795.04,462.41 796.04,460.00 797.05,457.58 798.05,455.15 799.06,452.71 800.06,450.25 801.06,447.79 802.07,445.31 803.07,442.83 804.08,440.33 805.08,437.83 806.09,435.31 807.09,432.78 808.10,430.25 809.10,427.70 810.10,425.15 811.10,422.59 812.11,420.02 813.11,417.45 814.11,414.86 815.11,412.27 816.11,409.67 817.12,407.06 818.12,404.45 819.12,401.83 820.12,399.20 821.12,396.57 822.12,393.93 823.13,391.29 824.13,388.65 825.13,386.00 826.13,383.34 827.13,380.69 828.14,378.03 829.14,375.36 830.14,372.70 831.14,370.03 832.14,367.36 833.15,364.69 834.15,362.02 835.15,359.35 836.15,356.68 837.15,354.01 838.16,351.34 839.16,348.68 840.16,346.01 841.16,343.35 842.16,340.68 843.17,338.02 844.17,335.37 845.17,332.72 846.17,330.07 847.17,327.42 848.17,324.78 849.18,322.15 850.18,319.52 851.18,316.89 852.18,314.27 853.18,311.66 854.19,309.06 855.19,306.46 856.19,303.87 857.19,301.29 858.19,298.71 859.20,296.15 860.20,293.59 861.20,291.04 862.20,288.51 863.20,285.98 864.21,283.46 865.21,280.96 866.21,278.46 867.21,275.98 868.21,273.51 869.22,271.05 870.22,268.61 871.22,266.17 872.22,263.76 873.22,261.35 874.23,258.96 875.23,256.59 876.23,254.22 877.23,251.88 878.23,249.55 879.23,247.24 880.24,244.94 881.24,242.66 882.24,240.40 883.24,238.15 884.24,235.93 885.25,233.72 886.25,231.53 887.25,229.36 888.25,227.21 889.25,225.08 890.26,222.97 891.26,220.88 892.26,218.81 893.26,216.76 894.26,214.74 895.27,212.74 896.27,210.75 897.27,208.80 898.27,206.86 899.27,204.95 900.27,203.07 901.28,201.20 902.28,199.37 903.28,197.55 904.28,195.77 905.28,194.01 906.29,192.27 907.29,190.56 908.29,188.88 909.29,187.23 910.29,185.61 911.30,184.01 912.30,182.44 913.30,180.90 914.34,179.33 915.38,177.79 916.42,176.28 917.47,174.80 918.51,173.35 919.55,171.93 920.59,170.53 921.63,169.15 922.67,167.81 923.72,166.48 924.76,165.18 925.80,163.90 926.82,162.66 927.84,161.45 928.87,160.26 929.89,159.08 930.91,157.93 931.93,156.80 932.96,155.68 933.98,154.59 935.00,153.52 936.02,152.48 937.05,151.45 938.07,150.44 939.09,149.46 940.12,148.50 941.14,147.56 942.16,146.64 943.18,145.74 944.21,144.87 945.23,144.02 946.25,143.19 947.27,142.38 948.29,141.59 949.32,140.83 950.34,140.09 951.36,139.37 952.38,138.68 953.41,138.00 954.43,137.35 955.45,136.73 956.48,136.13 957.50,135.55 958.52,134.99 959.54,134.46 960.57,133.95 961.59,133.47 962.61,133.00 963.63,132.57 964.66,132.15 965.68,131.76 966.70,131.40 967.72,131.06 968.75,130.74 969.77,130.45 970.79,130.18 971.82,129.93 972.84,129.70 973.86,129.49 974.89,129.30 975.91,129.13 976.94,128.98 977.96,128.85 978.98,128.74 980.01,128.64 981.03,128.56 982.05,128.49 983.08,128.44 984.10,128.40 985.10,128.38 986.11,128.37 987.11,128.37 988.11,128.38 989.11,128.41 990.12,128.45 991.12,128.50 992.12,128.57 993.12,128.65 994.13,128.73 995.13,128.83 996.13,128.95 997.13,129.07 998.14,129.21 999.14,129.35 1000.14,129.51 1001.14,129.68 1002.15,129.86 1003.15,130.05 1004.15,130.26 1005.15,130.47 1006.16,130.70 1007.16,130.93 1008.16,131.17 1009.17,131.43 1010.17,131.70 1011.17,131.97 1012.17,132.26 1013.18,132.55 1014.18,132.86 1015.18,133.17 1016.18,133.50 1017.19,133.83 1018.19,134.17 1019.19,134.53 1020.19,134.89 1021.20,135.26 1022.20,135.64 1023.20,136.02 1024.20,136.42 1025.21,136.83 1026.21,137.24 1027.21,137.66 1028.21,138.09 1029.22,138.53 1030.22,138.97 1031.22,139.43 1032.23,139.89 1033.23,140.36 1034.23,140.83 1035.23,141.32 1036.24,141.81 1037.24,142.31 1038.24,142.81 1039.24,143.32 1040.25,143.84 1041.25,144.37 1042.25,144.90 1043.25,145.44 1044.26,145.98 1045.26,146.53 1046.26,147.09 1047.26,147.65 1048.27,148.22 1049.27,148.80 1050.27,149.38 1051.27,149.96 1052.28,150.55 1053.28,151.15 1054.28,151.75 1055.29,152.36 1056.29,152.97 1057.29,153.59 1058.29,154.21 1059.30,154.84 1060.30,155.47 1061.30,156.10 1062.30,156.74 1063.31,157.39 1064.31,158.04 1065.31,158.69 1066.31,159.34 1067.32,160.00 1068.32,160.67 1069.32,161.33 1070.32,162.00 1071.33,162.67 1072.33,163.35 1073.33,164.03 1074.33,164.71 1075.34,165.40 1076.34,166.09 1077.34,166.78 1078.35,167.47 1079.35,168.17 1080.35,168.86 1081.35,169.56 1082.36,170.27 1083.36,170.97 1084.36,171.67 1085.36,172.38 1086.37,173.09 1087.37,173.80 1088.37,174.51 1089.37,175.23 1090.38,175.94 1091.38,176.66 1092.38,177.37 1093.38,178.09 1094.39,178.81 1095.39,179.52 1096.39,180.24 1097.39,180.96 1098.40,181.68 1099.40,182.40" stroke="#00ff00" stroke-width="7.0" fill="none" stroke-linecap="round" stroke-linejoin="round" stroke-dasharray="3 36.9" stroke-dashoffset="-2.5"/>
<polygon points="222.50,989.50 203.45,1022.50 241.55,1022.50" fill="#00ff00"/>
<polygon points="358.80,793.50 339.75,826.50 377.85,826.50" fill="#00ff00"/>
<polygon points="692.60,613.20 673.55,646.20 711.65,646.20" fill="#00ff00"/>
<polygon points="740.80,551.00 721.75,584.00 759.85,584.00" fill="#00ff00"/>
<polygon points="809.10,405.70 790.05,438.70 828.15,438.70" fill="#00ff00"/>
<polygon points="913.30,158.90 894.25,191.90 932.35,191.90" fill="#00ff00"/>
<polygon points="925.80,141.90 906.75,174.90 944.85,174.90" fill="#00ff00"/>
<polygon points="966.70,109.40 947.65,142.40 985.75,142.40" fill="#00ff00"/>
<polygon points="984.10,106.40 965.05,139.40 1003.15,139.40" fill="#00ff00"/>
<polygon points="1099.40,160.40 1080.35,193.40 1118.45,193.40" fill="#00ff00"/>
<path d="M 222.50,1011.50 223.50,1010.05 224.50,1008.60 225.50,1007.15 226.50,1005.70 227.50,1004.25 228.50,1002.80 229.50,1001.35 230.50,999.90 231.50,998.45 232.50,997.00 233.50,995.55 234.50,994.10 235.50,992.65 236.50,991.21 237.50,989.76 238.50,988.31 239.50,986.87 240.50,985.42 241.50,983.97 242.50,982.53 243.50,981.08 244.50,979.64 245.50,978.20 246.50,976.76 247.50,975.32 248.50,973.87 249.50,972.43 250.50,971.00 251.50,969.56 252.50,968.12 253.50,966.68 254.50,965.25 255.50,963.81 256.50,962.38 257.50,960.95 258.50,959.52 259.50,958.09 260.50,956.66 261.50,955.23 262.50,953.80 263.50,952.38 264.50,950.95 265.50,949.53 266.50,948.11 267.50,946.69 268.50,945.27 269.50,943.85 270.50,942.44 271.50,941.02 272.50,939.61 273.50,938.20 274.50,936.79 275.50,935.38 276.50,933.97 277.50,932.57 278.50,931.17 279.50,929.76 280.50,928.36 281.50,926.97 282.50,925.57 283.50,924.18 284.50,922.78 285.50,921.39 286.50,920.00 287.50,918.62 288.50,917.23 289.50,915.85 290.50,914.47 291.50,913.09 292.50,911.71 293.50,910.34 294.50,908.97 295.50,907.60 296.50,906.23 297.50,904.87 298.50,903.50 299.50,902.14 300.50,900.78 301.50,899.43 302.50,898.07 303.50,896.72 304.50,895.37 305.50,894.03 306.50,892.68 307.50,891.34 308.50,890.00 309.50,888.67 310.50,887.34 311.50,886.01 312.50,884.68 313.50,883.35 314.50,882.03 315.50,880.71 316.50,879.40 317.50,878.08 318.50,876.77 319.50,875.46 320.50,874.16 321.50,872.86 322.50,871.56 323.50,870.26 324.50,868.97 325.50,867.68 326.50,866.40 327.50,865.11 328.50,863.83 329.50,862.56 330.50,861.28 331.50,860.01 332.50,858.75 333.50,857.49 334.50,856.23 335.50,854.97 336.50,853.72 337.50,852.47 338.50,851.22 339.50,849.98 340.50,848.74 341.50,847.51 342.50,846.27 343.50,845.05 344.50,843.82 345.50,842.60 346.50,841.39 347.50,840.17 348.50,838.97 349.50,837.76 350.50,836.56 351.50,835.36 352.50,834.17 353.50,832.98 354.50,831.80 355.50,830.61 356.50,829.44 357.50,828.26 358.50,827.10 359.50,825.93 360.50,824.77 361.50,823.62 362.50,822.46 363.50,821.32 364.50,820.17 365.50,819.03 366.50,817.90 367.50,816.77 368.50,815.64 369.50,814.52 370.50,813.40 371.51,812.29 372.51,811.18 373.51,810.07 374.51,808.97 375.51,807.88 376.51,806.79 377.51,805.70 378.51,804.62 379.51,803.54 380.52,802.46 381.52,801.39 382.52,800.33 383.52,799.27 384.52,798.21 385.52,797.16 386.52,796.11 387.52,795.06 388.52,794.02 389.52,792.99 390.53,791.96 391.53,790.93 392.53,789.90 393.53,788.89 394.53,787.87 395.53,786.86 396.53,785.85 397.53,784.85 398.53,783.85 399.54,782.86 400.54,781.87 401.54,780.88 402.54,779.90 403.54,778.92 404.54,777.95 405.54,776.98 406.54,776.02 407.54,775.06 408.55,774.10 409.55,773.15 410.55,772.20 411.55,771.25 412.55,770.31 413.55,769.37 414.55,768.44 415.55,767.51 416.55,766.59 417.55,765.67 418.56,764.75 419.56,763.84 420.56,762.93 421.56,762.02 422.56,761.12 423.56,760.22 424.56,759.33 425.56,758.44 426.56,757.56 427.57,756.68 428.57,755.80 429.57,754.92 430.57,754.05 431.57,753.19 432.57,752.33 433.57,751.47 434.57,750.61 435.57,749.76 436.58,748.92 437.58,748.07 438.58,747.23 439.58,746.40 440.58,745.57 441.58,744.74 442.58,743.92 443.58,743.10 444.58,742.28 445.58,741.47 446.59,740.66 447.59,739.85 448.59,739.05 449.59,738.25 450.59,737.46 451.59,736.67 452.59,735.88 453.59,735.10 454.59,734.32 455.60,733.54 456.60,732.77 457.60,732.00 458.60,731.24 459.60,730.48 460.60,729.72 461.60,728.96 462.60,728.21 463.60,727.47 464.61,726.72 465.61,725.98 466.61,725.25 467.61,724.51 468.61,723.79 469.61,723.06 470.61,722.34 471.61,721.62 472.61,720.90 473.62,720.19 474.62,719.48 475.62,718.78 476.62,718.08 477.62,717.38 478.62,716.69 479.62,715.99 480.62,715.31 481.62,714.62 482.62,713.94 483.63,713.27 484.63,712.59 485.63,711.92 486.63,711.25 487.63,710.59 488.63,709.93 489.63,709.27 490.63,708.62 491.63,707.97 492.64,707.32 493.64,706.68 494.64,706.04 495.64,705.40 496.64,704.77 497.64,704.14 498.64,703.51 499.64,702.89 500.64,702.27 501.65,701.65 502.65,701.03 503.65,700.42 504.65,699.81 505.65,699.21 506.65,698.61 507.65,698.01 508.65,697.42 509.65,696.82 510.65,696.24 511.66,695.65 512.66,695.07 513.66,694.49 514.66,693.91 515.66,693.34 516.66,692.77 517.66,692.20 518.66,691.64 519.66,691.08 520.67,690.52 521.67,689.97 522.67,689.41 523.67,688.87 524.67,688.32 525.67,687.78 526.67,687.24 527.67,686.70 528.67,686.17 529.68,685.64 530.68,685.11 531.68,684.59 532.68,684.07 533.68,683.55 534.68,683.03 535.68,682.52 536.68,682.01 537.68,681.50 538.68,681.00 539.69,680.50 540.69,680.00 541.69,679.51 542.69,679.02 543.69,678.53 544.69,678.04 545.69,677.56 546.69,677.08 547.69,676.60 548.70,676.12 549.70,675.65 550.70,675.18 551.70,674.71 552.70,674.25 553.70,673.79 554.70,673.33 555.70,672.88 556.70,672.42 557.71,671.97 558.71,671.53 559.71,671.08 560.71,670.64 561.71,670.20 562.71,669.76 563.71,669.33 564.71,668.90 565.71,668.47 566.72,668.05 567.72,667.62 568.72,667.20 569.72,666.78 570.72,666.37 571.72,665.96 572.72,665.55 573.72,665.14 574.72,664.73 575.72,664.33 576.73,663.93 577.73,663.54 578.73,663.14 579.73,662.75 580.73,662.36 581.73,661.97 582.73,661.59 583.73,661.21 584.73,660.83 585.74,660.45 586.74,660.08 587.74,659.71 588.74,659.34 589.74,658.97 590.74,658.61 591.74,658.24 592.74,657.88 593.74,657.53 594.75,657.17 595.75,656.82 596.75,656.47 597.75,656.12 598.75,655.78 599.75,655.44 600.75,655.10 601.75,654.76 602.75,654.42 603.75,654.09 604.76,653.76 605.76,653.43 606.76,653.10 607.76,652.78 608.76,652.46 609.76,652.14 610.76,651.82 611.76,651.51 612.76,651.19 613.77,650.88 614.77,650.58 615.77,650.27 616.77,649.97 617.77,649.66 618.77,649.37 619.77,649.07 620.77,648.77 621.77,648.48 622.78,648.19 623.78,647.90 624.78,647.62 625.78,647.33 626.78,647.05 627.78,646.77 628.78,646.49 629.78,646.22 630.78,645.94 631.78,645.67 632.79,645.40 633.79,645.14 634.79,644.87 635.79,644.61 636.79,644.35 637.79,644.09 638.79,643.83 639.79,643.58 640.79,643.32 641.80,643.07 642.80,642.82 643.80,642.58 644.80,642.33 645.80,642.09 646.80,641.85 647.80,641.61 648.80,641.37 649.80,641.13 650.81,640.90 651.81,640.67 652.81,640.44 653.81,640.21 654.81,639.99 655.81,639.76 656.81,639.54 657.81,639.32 658.81,639.10 659.82,638.89 660.82,638.67 661.82,638.46 662.82,638.25 663.82,638.04 664.82,637.83 665.82,637.63 666.82,637.42 667.82,637.22 668.82,637.02 669.83,636.82 670.83,636.62 671.83,636.43 672.83,636.24 673.83,636.04 674.83,635.85 675.83,635.67 676.83,635.48 677.83,635.30 678.84,635.11 679.84,634.93 680.84,634.75 681.84,634.57 682.84,634.40 683.84,634.22 684.84,634.05 685.84,633.88 686.84,633.71 687.85,633.54 688.85,633.37 689.85,633.21 690.85,633.04 691.85,632.88 692.85,632.72 693.85,632.56 694.85,632.40 695.85,632.25 696.85,632.09 697.86,631.94 698.86,631.79 699.86,631.64 700.86,631.49 701.86,631.34 702.86,631.20 703.86,631.05 704.86,630.91 705.86,630.77 706.87,630.63 707.87,630.49 708.87,630.35 709.87,630.22 710.87,630.08 711.87,629.95 712.87,629.82 713.87,629.69 714.87,629.56 715.88,629.43 716.88,629.30 717.88,629.18 718.88,629.06 719.88,628.93 720.88,628.81 721.88,628.69 722.88,628.58 723.88,628.46 724.88,628.34 725.89,628.23 726.89,628.11 727.89,628.00 728.89,627.89 729.89,627.78 730.89,627.67 731.89,627.57 732.89,627.46 733.89,627.36 734.90,627.25 735.90,627.15 736.90,627.05 737.90,626.95 738.90,626.85 739.90,626.75 740.90,626.65 741.90,626.56 742.90,626.46 743.91,626.37 744.91,626.28 745.91,626.19 746.91,626.10 747.91,626.01 748.91,625.92 749.91,625.83 750.91,625.75 751.91,625.66 752.92,625.58 753.92,625.50 754.92,625.41 755.92,625.33 756.92,625.25 757.92,625.17 758.92,625.10 759.92,625.02 760.92,624.94 761.92,624.87 762.93,624.79 763.93,624.72 764.93,624.65 765.93,624.58 766.93,624.50 767.93,624.43 768.93,624.37 769.93,624.30 770.93,624.23 771.94,624.16 772.94,624.10 773.94,624.03 774.94,623.97 775.94,623.91 776.94,623.84 777.94,623.78 778.94,623.72 779.94,623.66 780.95,623.60 781.95,623.55 782.95,623.49 783.95,623.43 784.95,623.37 785.95,623.32 786.95,623.26 787.95,623.21 788.95,623.16 789.95,623.11 790.96,623.05 791.96,623.00 792.96,622.95 793.96,622.90 794.96,622.85 795.96,622.80 796.96,622.76 797.96,622.71 798.96,622.66 799.97,622.62 800.97,622.57 801.97,622.52 802.97,622.48 803.97,622.44 804.97,622.39 805.97,622.35 806.97,622.31 807.97,622.27 808.98,622.22 809.98,622.18 810.98,622.14 811.98,622.10 812.98,622.06 813.98,622.03 814.98,621.99 815.98,621.95 816.98,621.91 817.98,621.88 818.99,621.84 819.99,621.80 820.99,621.77 821.99,621.73 822.99,621.70 823.99,621.66 824.99,621.63 825.99,621.60 826.99,621.56 828.00,621.53 829.00,621.50 830.00,621.46 831.00,621.43 832.00,621.40 833.00,621.37 834.01,621.34 835.01,621.31 836.01,621.28 837.02,621.24 838.02,621.21 839.03,621.18 840.03,621.15 841.03,621.12 842.04,621.09 843.04,621.06 844.04,621.03 845.05,620.99 846.05,620.96 847.06,620.93 848.06,620.90 849.06,620.86 850.07,620.83 851.07,620.79 852.07,620.76 853.08,620.72 854.08,620.68 855.08,620.64 856.09,620.60 857.09,620.56 858.10,620.52 859.10,620.48 860.10,620.43 861.11,620.39 862.11,620.34 863.11,620.29 864.12,620.24 865.12,620.19 866.12,620.14 867.13,620.09 868.13,620.03 869.14,619.97 870.14,619.92 871.14,619.86 872.15,619.79 873.15,619.73 874.15,619.66 875.16,619.59 876.16,619.52 877.17,619.45 878.17,619.38 879.17,619.30 880.18,619.22 881.18,619.14 882.18,619.05 883.19,618.97 884.19,618.88 885.19,618.79 886.20,618.69 887.20,618.60 888.21,618.50 889.21,618.40 890.21,618.29 891.22,618.18 892.22,618.07 893.22,617.96 894.23,617.84 895.23,617.72 896.23,617.60 897.24,617.47 898.24,617.34 899.25,617.21 900.25,617.07 901.25,616.93 902.26,616.79 903.26,616.64 904.26,616.49 905.27,616.34 906.27,616.18 907.28,616.02 908.28,615.85 909.28,615.68 910.29,615.51 911.29,615.33 912.29,615.15 913.30,614.96 914.30,614.77 915.30,614.58 916.31,614.38 917.31,614.18 918.32,613.97 919.32,613.76 920.32,613.55 921.33,613.33 922.33,613.10 923.33,612.87 924.34,612.64 925.34,612.40 926.34,612.15 927.35,611.90 928.35,611.65 929.36,611.39 930.36,611.13 931.36,610.86 932.37,610.59 933.37,610.31 934.37,610.02 935.38,609.73 936.38,609.44 937.39,609.14 938.39,608.83 939.39,608.52 940.40,608.20 941.40,607.88 942.40,607.55 943.41,607.22 944.41,606.88 945.41,606.53 946.42,606.18 947.42,605.82 948.43,605.46 949.43,605.09 950.43,604.71 951.44,604.33 952.44,603.94 953.44,603.55 954.45,603.14 955.45,602.74 956.46,602.32 957.46,601.90 958.46,601.47 959.47,601.04 960.47,600.60 961.47,600.15 962.48,599.70 963.48,599.24 964.48,598.77 965.49,598.29 966.49,597.81 967.50,597.32 968.50,596.83 969.50,596.32 970.51,595.81 971.51,595.30 972.51,594.77 973.52,594.24 974.52,593.70 975.52,593.15 976.53,592.59 977.53,592.03 978.54,591.46 979.54,590.88 980.54,590.30 981.55,589.70 982.55,589.10 983.55,588.49 984.56,587.87 985.56,587.25 986.57,586.61 987.57,585.97 988.57,585.32 989.58,584.66 990.58,583.99 991.58,583.32 992.59,582.63 993.59,581.94 994.59,581.24 995.60,580.53 996.60,579.81 997.61,579.09 998.61,578.35 999.61,577.61 1000.62,576.85 1001.62,576.09 1002.62,575.32 1003.63,574.54 1004.63,573.75 1005.63,572.95 1006.64,572.14 1007.64,571.32 1008.65,570.50 1009.65,569.66 1010.65,568.81 1011.66,567.96 1012.66,567.09 1013.66,566.22 1014.67,565.33 1015.67,564.44 1016.68,563.54 1017.68,562.62 1018.68,561.70 1019.69,560.77 1020.69,559.82 1021.69,558.87 1022.70,557.91 1023.70,556.93 1024.70,555.95 1025.71,554.96 1026.71,553.95 1027.72,552.94 1028.72,551.91 1029.72,550.88 1030.73,549.83 1031.73,548.77 1032.73,547.70 1033.74,546.63 1034.74,545.54 1035.74,544.44 1036.75,543.33 1037.75,542.20 1038.76,541.07 1039.76,539.93 1040.76,538.77 1041.77,537.61 1042.77,536.43 1043.77,535.24 1044.78,534.04 1045.78,532.83 1046.79,531.61 1047.79,530.37 1048.79,529.13 1049.80,527.87 1050.80,526.60 1051.80,525.32 1052.81,524.03 1053.81,522.72 1054.82,521.41 1055.82,520.08 1056.82,518.74 1057.83,517.39 1058.83,516.03 1059.83,514.65 1060.84,513.26 1061.84,511.87 1062.85,510.46 1063.85,509.04 1064.85,507.60 1065.86,506.16 1066.86,504.70 1067.86,503.24 1068.87,501.76 1069.87,500.27 1070.88,498.76 1071.88,497.25 1072.88,495.72 1073.89,494.19 1074.89,492.64 1075.89,491.08 1076.90,489.50 1077.90,487.92 1078.91,486.33 1079.91,484.72 1080.91,483.10 1081.92,481.47 1082.92,479.83 1083.92,478.18 1084.93,476.51 1085.93,474.84 1086.94,473.15 1087.94,471.45 1088.94,469.74 1089.95,468.02 1090.95,466.28 1091.95,464.54 1092.96,462.78 1093.96,461.01 1094.97,459.23 1095.97,457.44 1096.97,455.64 1097.98,453.82 1098.98,452.00 1099.98,450.16 1100.99,448.31 1101.99,446.45 1103.00,444.58 1104.00,442.70 1105.00,440.80 1106.01,438.90 1107.01,436.98 1108.02,435.05 1109.02,433.11 1110.03,431.16 1111.03,429.19 1112.03,427.22 1113.04,425.23 1114.04,423.23 1115.05,421.22 1116.05,419.20 1117.06,417.16 1118.06,415.12 1119.06,413.06 1120.07,410.99 1121.07,408.91 1122.08,406.82 1123.08,404.71 1124.09,402.60 1125.09,400.47 1126.09,398.33 1127.10,396.18 1128.10,394.01 1129.11,391.84 1130.11,389.65 1131.11,387.45 1132.12,385.24 1133.12,383.01 1134.13,380.78 1135.13,378.53 1136.14,376.27 1137.14,374.00 1138.14,371.71 1139.15,369.41 1140.15,367.11 1141.16,364.78 1142.16,362.45 1143.17,360.11 1144.17,357.75 1145.17,355.38 1146.18,353.00 1147.18,350.60 1148.19,348.19 1149.19,345.78 1150.20,343.34 1151.20,340.90 1152.21,338.42 1153.23,335.93 1154.24,333.43 1155.25,330.91 1156.27,328.39 1157.28,325.85 1158.30,323.30 1159.31,320.75 1160.32,318.19 1161.34,315.62 1162.35,313.04 1163.36,310.45 1164.38,307.86 1165.39,305.26 1166.41,302.65 1167.42,300.04 1168.43,297.43 1169.45,294.81 1170.46,292.19 1171.47,289.56 1172.49,286.93 1173.50,284.30 1174.52,281.66 1175.53,279.03 1176.54,276.39 1177.56,273.76 1178.57,271.12 1179.58,268.49 1180.60,265.85 1181.61,263.22 1182.63,260.59 1183.64,257.96 1184.65,255.34 1185.67,252.72 1186.68,250.10 1187.69,247.49 1188.71,244.88 1189.72,242.28 1190.74,239.69 1191.75,237.10 1192.76,234.52 1193.78,231.94 1194.79,229.38 1195.80,226.82 1196.82,224.27 1197.83,221.73 1198.85,219.20 1199.86,216.69 1200.87,214.18 1201.89,211.68 1202.90,209.20 1203.93,206.69 1204.96,204.20 1205.99,201.73 1207.02,199.29 1208.05,196.89 1209.08,194.53 1210.12,192.22 1211.15,189.96 1212.18,187.77 1213.21,185.64 1214.24,183.58 1215.27,181.60 1216.30,179.70 1217.32,177.92 1218.33,176.22 1219.35,174.59 1220.36,173.05 1221.38,171.57 1222.39,170.15 1223.41,168.80 1224.42,167.50 1225.44,166.25 1226.45,165.06 1227.47,163.90 1228.48,162.78 1229.50,161.70 1230.51,160.92 1231.52,160.16 1232.53,159.41 1233.54,158.67 1234.55,157.94 1235.57,157.23 1236.58,156.53 1237.59,155.85 1238.60,155.17 1239.61,154.51 1240.62,153.86 1241.63,153.23 1242.64,152.60 1243.65,151.99 1244.66,151.39 1245.68,150.81 1246.69,150.23 1247.70,149.67 1248.71,149.12 1249.72,148.58 1250.73,148.06 1251.74,147.55 1252.75,147.05 1253.76,146.56 1254.77,146.08 1255.78,145.62 1256.80,145.16 1257.81,144.72 1258.82,144.30 1259.83,143.88 1260.84,143.47 1261.85,143.08 1262.86,142.70 1263.87,142.33 1264.88,141.97 1265.89,141.62 1266.91,141.29 1267.92,140.96 1268.93,140.65 1269.94,140.35 1270.95,140.06 1271.96,139.78 1272.97,139.51 1273.98,139.26 1274.99,139.01 1276.00,138.78 1277.02,138.55 1278.03,138.34 1279.04,138.14 1280.05,137.95 1281.06,137.77 1282.07,137.60 1283.08,137.45 1284.09,137.30 1285.10,137.16 1286.11,137.04 1287.12,136.92 1288.14,136.82 1289.15,136.73 1290.16,136.64 1291.17,136.57 1292.18,136.51 1293.19,136.46 1294.20,136.41 1295.21,136.38 1296.22,136.36 1297.23,136.35 1298.25,136.35 1299.26,136.36 1300.27,136.38 1301.28,136.41 1302.29,136.45 1303.30,136.50" stroke="#0000ff" stroke-width="7.0" fill="none" stroke-linecap="round" stroke-linejoin="round" stroke-dasharray="34.7 22.6 4.4 22.7" stroke-dashoffset="-2"/>
<polygon points="222.50,1033.50 203.45,1000.50 241.55,1000.50" fill="#0000ff"/>
<polygon points="366.50,839.90 347.45,806.90 385.55,806.90" fill="#0000ff"/>
<polygon points="832.00,643.40 812.95,610.40 851.05,610.40" fill="#0000ff"/>
<polygon points="1050.80,548.60 1031.75,515.60 1069.85,515.60" fill="#0000ff"/>
<polygon points="1104.00,464.70 1084.95,431.70 1123.05,431.70" fill="#0000ff"/>
<polygon points="1151.20,362.90 1132.15,329.90 1170.25,329.90" fill="#0000ff"/>
<polygon points="1202.90,231.20 1183.85,198.20 1221.95,198.20" fill="#0000ff"/>
<polygon points="1216.30,201.70 1197.25,168.70 1235.35,168.70" fill="#0000ff"/>
<polygon points="1229.50,183.70 1210.45,150.70 1248.55,150.70" fill="#0000ff"/>
<polygon points="1303.30,158.50 1284.25,125.50 1322.35,125.50" fill="#0000ff"/>
</g>
<path d="M981.2 643.10H1051.6M1093.3 643.10H1164.0" stroke="#000000" stroke-width="7.0" fill="none" stroke-linecap="round"/>
<rect x="1058.20" y="629.10" width="28.0" height="28.0" fill="#000000"/>
<text x="1184.1" y="671.6" font-size="83">G=0mm</text>
<path d="M981.2 743.90H1051.6M1093.3 743.90H1164.0" stroke="#ff0000" stroke-width="7.0" fill="none" stroke-linecap="round" stroke-dasharray="28.7 38.1"/>
<circle cx="1072.20" cy="743.90" r="15.8" fill="#ff0000"/>
<text x="1184.1" y="772.3" font-size="83">G=1mm</text>
<path d="M981.2 844.30H1051.6M1093.3 844.30H1164.0" stroke="#00ff00" stroke-width="7.0" fill="none" stroke-linecap="round" stroke-dasharray="3 36.9"/>
<polygon points="1072.20,822.30 1053.15,855.30 1091.25,855.30" fill="#00ff00"/>
<text x="1184.1" y="872.8" font-size="83">G=2mm</text>
<path d="M981.2 945.90H1051.6M1093.3 945.90H1164.0" stroke="#0000ff" stroke-width="7.0" fill="none" stroke-linecap="round" stroke-dasharray="34.7 22.5 4.4 22.5"/>
<polygon points="1072.20,967.90 1053.15,934.90 1091.25,934.90" fill="#0000ff"/>
<text x="1184.1" y="974.3" font-size="83">G=3mm</text>
</svg>
</body></html>
